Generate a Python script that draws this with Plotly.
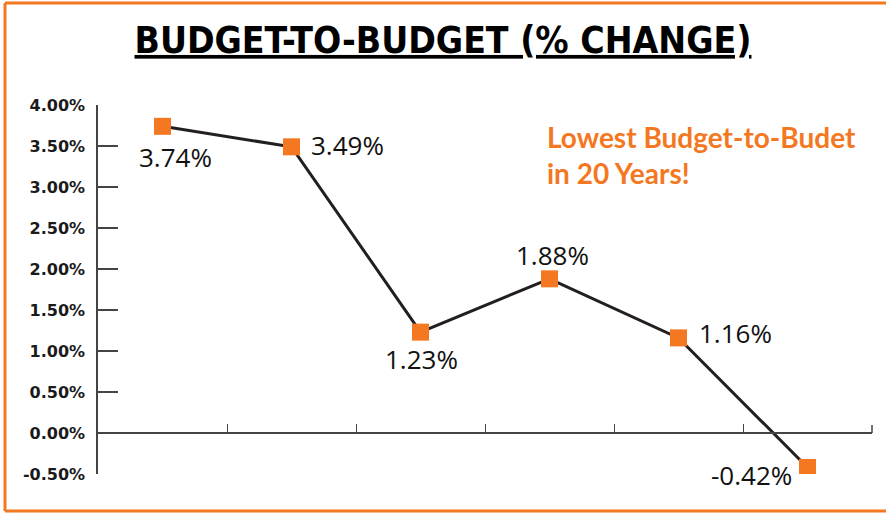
import plotly.graph_objects as go

# ---- data ----
periods = ["P1", "P2", "P3", "P4", "P5", "P6"]
pct_change = [3.74, 3.49, 1.23, 1.88, 1.16, -0.42]
y_ticks = [-0.5, 0.0, 0.5, 1.0, 1.5, 2.0, 2.5, 3.0, 3.5, 4.0]
y_tick_labels = ["-0.50%", "0.00%", "0.50%", "1.00%", "1.50%", "2.00%",
                 "2.50%", "3.00%", "3.50%", "4.00%"]
title_text = "BUDGET-TO-BUDGET (% CHANGE)"
callout_text = "Lowest Budget-to-Budet<br>in 20 Years!"

ORANGE = "#F47721"
DARK = "#231F20"

# label placement (style): (xanchor, xshift, yshift)
placement = [
    ("center", 13, -31),
    ("left", 17, 2),
    ("center", 1, -27),
    ("center", 3, 24),
    ("left", 18, 5),
    ("right", -14, -8),
]

W, H = 886, 513
ML, MR, MT, MB = 98, 14, 105, 39
y_min, y_max = y_ticks[0], y_ticks[-1]

fig = go.Figure()
fig.add_trace(go.Scatter(
    x=periods, y=pct_change, mode="lines+markers",
    line=dict(color=DARK, width=3),
    marker=dict(symbol="square", size=17, color=ORANGE),
    hoverinfo="skip", showlegend=False,
))

annotations = []
for cat, val, (xa, xs, ys) in zip(periods, pct_change, placement):
    annotations.append(dict(
        x=cat, y=val, xref="x", yref="y", text=f"{val:.2f}%",
        showarrow=False, xanchor=xa, yanchor="middle", xshift=xs, yshift=ys,
        font=dict(family="Open Sans, Noto Sans, sans-serif", size=26, color="#111111"),
    ))

pw = W - ML - MR
ph = H - MT - MB
def px_x(p):
    return (p - ML) / pw
def px_y(p):
    return (H - MB - p) / ph

annotations.append(dict(
    x=px_x(545), y=px_y(118), xref="paper", yref="paper", text=callout_text,
    showarrow=False, xanchor="left", yanchor="top", align="left",
    font=dict(family="Lato, sans-serif", size=28, color=ORANGE, weight="bold"),
))

shapes = [
    dict(type="line", xref="paper", yref="paper", x0=px_x(5), x1=px_x(5),
         y0=px_y(511), y1=px_y(3), line=dict(color=ORANGE, width=3)),
    dict(type="line", xref="paper", yref="paper", x0=px_x(5), x1=px_x(W + 5),
         y0=px_y(3), y1=px_y(3), line=dict(color=ORANGE, width=3)),
    dict(type="line", xref="paper", yref="paper", x0=px_x(5), x1=px_x(W + 5),
         y0=px_y(511), y1=px_y(511), line=dict(color=ORANGE, width=3)),
    # closing tick at the right end of the x axis
    dict(type="line", xref="paper", yref="paper", x0=1, x1=1,
         y0=(0 - y_min) / (y_max - y_min), y1=(0 - y_min) / (y_max - y_min) + 8 / ph,
         line=dict(color="#444444", width=1.5)),
]

fig.update_layout(
    width=W, height=H,
    margin=dict(l=ML, r=MR, t=MT, b=MB),
    paper_bgcolor="white", plot_bgcolor="white",
    title=dict(
        text=title_text, x=0.5, xref="container", xanchor="center",
        y=1 - 40 / H, yref="container", yanchor="middle",
        font=dict(family="Liberation Sans Narrow, DejaVu Sans Condensed, Roboto Condensed, sans-serif",
                  size=37, color="black", weight="bold", lineposition="under"),
    ),
    xaxis=dict(
        type="category", range=[-0.5, len(periods) - 0.5],
        showline=True, linecolor="#444444", linewidth=1.5,
        ticks="inside", ticklen=8, tickwidth=1.3, tickcolor="#444444",
        tickson="boundaries", showticklabels=False, showgrid=False, zeroline=False,
        anchor="free", position=(0 - y_min) / (y_max - y_min),
    ),
    yaxis=dict(
        range=[y_min, y_max], tickmode="array", tickvals=y_ticks, ticktext=y_tick_labels,
        showline=True, linecolor="#444444", linewidth=1.5,
        ticks="inside", ticklen=20, tickwidth=1.5, tickcolor="#444444",
        showgrid=False, zeroline=False, ticklabelstandoff=8,
        tickfont=dict(family="DejaVu Sans, sans-serif", size=16, color="#1a1a1a", weight="bold"),
    ),
    annotations=annotations, shapes=shapes,
)

fig.write_html("out.html", config={"displayModeBar": False},
               post_script="document.body.style.margin='0';")
